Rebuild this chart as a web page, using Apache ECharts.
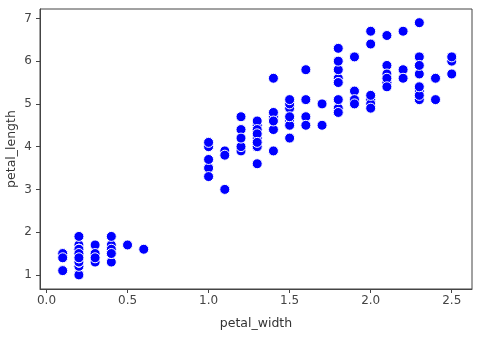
<!DOCTYPE html>
<html>
<head>
<meta charset="utf-8">
<script src="https://cdn.jsdelivr.net/npm/echarts@6/dist/echarts.min.js"></script>
<style>html,body{margin:0;padding:0;background:#fff}#c{width:492px;height:338px}</style>
</head>
<body>
<div id="c"></div>
<script>
// Iris dataset: petal_width / petal_length
const petalWidth = [
  0.2,0.2,0.2,0.2,0.2,0.4,0.3,0.2,0.2,0.1,0.2,0.2,0.1,0.1,0.2,0.4,0.4,0.3,0.3,0.3,
  0.2,0.4,0.2,0.5,0.2,0.2,0.4,0.2,0.2,0.2,0.2,0.4,0.1,0.2,0.2,0.2,0.2,0.1,0.2,0.2,
  0.3,0.3,0.2,0.6,0.4,0.3,0.2,0.2,0.2,0.2,
  1.4,1.5,1.5,1.3,1.5,1.3,1.6,1.0,1.3,1.4,1.0,1.5,1.0,1.4,1.3,1.4,1.5,1.0,1.5,1.1,
  1.8,1.3,1.5,1.2,1.3,1.4,1.4,1.7,1.5,1.0,1.1,1.0,1.2,1.6,1.5,1.6,1.5,1.3,1.3,1.3,
  1.2,1.4,1.2,1.0,1.3,1.2,1.3,1.3,1.1,1.3,
  2.5,1.9,2.1,1.8,2.2,2.1,1.7,1.8,1.8,2.5,2.0,1.9,2.1,2.0,2.4,2.3,1.8,2.2,2.3,1.5,
  2.3,2.0,2.0,1.8,2.1,1.8,1.8,1.8,2.1,1.6,1.9,2.0,2.2,1.5,1.4,2.3,2.4,1.8,1.8,2.1,
  2.4,2.3,1.9,2.3,2.5,2.3,1.9,2.0,2.3,1.8
];
const petalLength = [
  1.4,1.4,1.3,1.5,1.4,1.7,1.4,1.5,1.4,1.5,1.5,1.6,1.4,1.1,1.2,1.5,1.3,1.4,1.7,1.5,
  1.7,1.5,1.0,1.7,1.9,1.6,1.6,1.5,1.4,1.6,1.6,1.5,1.5,1.4,1.5,1.2,1.3,1.4,1.3,1.5,
  1.3,1.3,1.3,1.6,1.9,1.4,1.6,1.4,1.5,1.4,
  4.7,4.5,4.9,4.0,4.6,4.5,4.7,3.3,4.6,3.9,3.5,4.2,4.0,4.7,3.6,4.4,4.5,4.1,4.5,3.9,
  4.8,4.0,4.9,4.7,4.3,4.4,4.8,5.0,4.5,3.5,3.8,3.7,3.9,5.1,4.5,4.5,4.7,4.4,4.1,4.0,
  4.4,4.6,4.0,3.3,4.2,4.2,4.2,4.3,3.0,4.1,
  6.0,5.1,5.9,5.6,5.8,6.6,4.5,6.3,5.8,6.1,5.1,5.3,5.5,5.0,5.1,5.3,5.5,6.7,6.9,5.0,
  5.7,4.9,6.7,4.9,5.7,6.0,4.8,4.9,5.6,5.8,6.1,6.4,5.6,5.1,5.6,6.1,5.6,5.5,4.8,5.4,
  5.6,5.1,5.1,5.9,5.7,5.2,5.0,5.2,5.4,5.1
];
const xTicks = [0.0, 0.5, 1.0, 1.5, 2.0, 2.5];
const yTicks = [1, 2, 3, 4, 5, 6, 7];
const xLabel = 'petal_width';
const yLabel = 'petal_length';

const points = petalWidth.map((w, i) => [w, petalLength[i]]);
const font = 'DejaVu Sans';
const chart = echarts.init(document.getElementById('c'), null, {renderer: 'canvas'});
chart.setOption({
  animation: false,
  backgroundColor: '#fff',
  grid: {left: 40, top: 9, right: 20, bottom: 49, outerBoundsMode: 'none', containLabel: false,
    show: true, borderColor: '#444', borderWidth: 1, backgroundColor: 'transparent'},
  xAxis: {
    type: 'value', min: -0.04, max: 2.625,
    name: xLabel, nameLocation: 'middle', nameGap: 28, nameMoveOverlap: false,
    nameTextStyle: {fontFamily: font, fontSize: 12.5, color: '#333', verticalAlign: 'top'},
    axisLine: {show: true, onZero: false, lineStyle: {color: '#444', width: 1}},
    axisTick: {show: true, length: 4, lineStyle: {color: '#444'}, customValues: xTicks},
    axisLabel: {show: true, customValues: xTicks, fontFamily: font, fontSize: 12, color: '#444', margin: 6,
      formatter: v => Number(v).toFixed(1)},
    splitLine: {show: false}
  },
  yAxis: {
    type: 'value', min: 0.67, max: 7.22,
    name: yLabel, nameLocation: 'middle', nameGap: 22, nameMoveOverlap: false,
    nameTextStyle: {fontFamily: font, fontSize: 12.5, color: '#333'},
    axisLine: {show: true, onZero: false, lineStyle: {color: '#444', width: 1}},
    axisTick: {show: true, length: 4, lineStyle: {color: '#444'}, customValues: yTicks},
    axisLabel: {show: true, customValues: yTicks, fontFamily: font, fontSize: 12, color: '#444', margin: 8,
      formatter: v => String(Math.round(v))},
    splitLine: {show: false}
  },
  series: [{
    type: 'scatter',
    data: points,
    symbol: 'circle',
    symbolSize: 10,
    itemStyle: {color: '#0000ff', borderColor: '#fff', borderWidth: 1, opacity: 1}
  }]
});
</script>
</body>
</html>
